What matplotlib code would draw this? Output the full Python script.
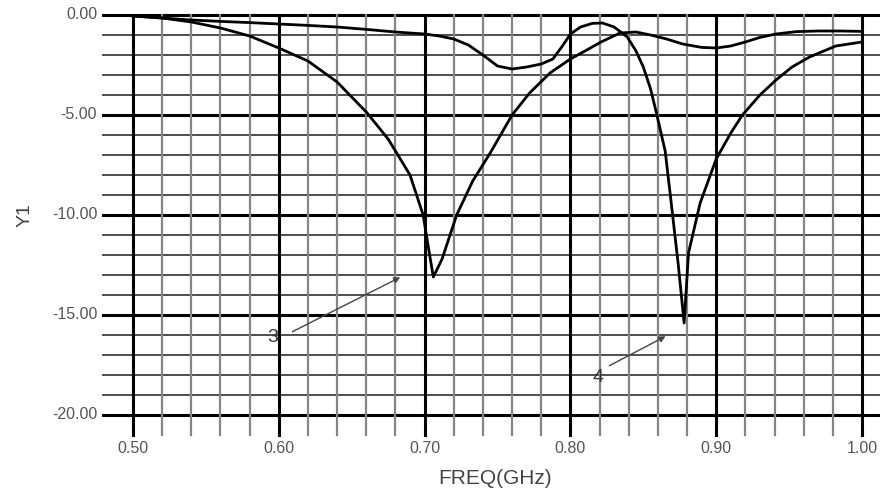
import numpy as np
import matplotlib
matplotlib.use('Agg')
import matplotlib.pyplot as plt

# curve with the deep notch near 0.705 GHz (marker 3)
freq_a = [0.50, 0.52, 0.54, 0.56, 0.58, 0.60, 0.62, 0.64, 0.66, 0.675, 0.69,
          0.699, 0.703, 0.706, 0.712, 0.722, 0.733, 0.745, 0.76, 0.772, 0.786,
          0.80, 0.81, 0.821, 0.834, 0.845, 0.855, 0.866, 0.877, 0.89, 0.90,
          0.91, 0.92, 0.93, 0.941, 0.955, 0.97, 0.985, 1.00]
y1_a = [-0.05, -0.15, -0.35, -0.65, -1.05, -1.65, -2.3, -3.35, -4.85, -6.2, -8.0,
        -10.0, -11.8, -13.1, -12.2, -10.0, -8.3, -6.9, -5.0, -3.9, -2.9,
        -2.2, -1.8, -1.35, -0.9, -0.85, -1.0, -1.2, -1.45, -1.62, -1.65,
        -1.55, -1.35, -1.12, -0.95, -0.83, -0.8, -0.8, -0.82]

# curve with the notch near 0.88 GHz (marker 4)
freq_b = [0.50, 0.52, 0.54, 0.56, 0.58, 0.60, 0.62, 0.64, 0.66, 0.68, 0.70,
          0.71, 0.72, 0.73, 0.74, 0.75, 0.76, 0.77, 0.78, 0.788, 0.795, 0.80,
          0.807, 0.815, 0.822, 0.83, 0.839, 0.845, 0.85, 0.855, 0.859, 0.865,
          0.869, 0.874, 0.878, 0.881, 0.889, 0.90, 0.91, 0.918, 0.93, 0.941,
          0.952, 0.964, 0.982, 1.00]
y1_b = [-0.05, -0.15, -0.25, -0.32, -0.38, -0.45, -0.52, -0.6, -0.72, -0.85, -0.95,
        -1.05, -1.2, -1.5, -2.0, -2.55, -2.7, -2.6, -2.45, -2.2, -1.5, -0.95,
        -0.6, -0.42, -0.4, -0.6, -1.1, -1.8, -2.6, -3.7, -4.9, -6.8,
        -9.3, -12.5, -15.4, -11.9, -9.4, -7.2, -5.9, -5.0, -4.0, -3.25,
        -2.6, -2.1, -1.55, -1.35]

x_ticks = [0.50, 0.60, 0.70, 0.80, 0.90, 1.00]
y_ticks = [0.0, -5.0, -10.0, -15.0, -20.0]

# markers: (label, text position, arrow tail, arrow tip)
markers = [('3', (0.596, -16.15), (0.6076, -15.9), (0.685, -13.05)),
           ('4', (0.819, -18.15), (0.825, -17.6), (0.867, -16.0))]

plt.rcParams['font.family'] = ['Liberation Sans', 'DejaVu Sans']

fig = plt.figure(figsize=(8.8, 4.91), dpi=100)
ax = fig.add_axes([103 / 880, 56 / 491, 777 / 880, 420 / 491])
x_lo, x_hi = 0.5 - 30 / 1459, 1.0 + 18 / 1459
ax.set_xlim(x_lo, x_hi)
ax.set_ylim(-21, 0)
for s in ax.spines.values():
    s.set_visible(False)
ax.set_xticks([])
ax.set_yticks([])

# plotter style grid: minor every 0.02 GHz / 1 unit, major every 0.1 / 5
for v in np.arange(-20, 1, 1):
    major = v % 5 == 0
    ax.plot([x_lo, x_hi], [v, v], color='black' if major else '#404040',
            lw=2.2 if major else 1.3, clip_on=False, zorder=1)
for f in np.arange(0.50, 1.001, 0.02):
    major = abs(f * 10 - round(f * 10)) < 1e-6
    ax.plot([f, f], [-21, 0], color='black' if major else '#858585',
            lw=2.2 if major else 1.6, clip_on=False, zorder=1)

ax.plot(freq_a, y1_a, color='black', lw=2.0, zorder=3, clip_on=False)
ax.plot(freq_b, y1_b, color='black', lw=2.0, zorder=3, clip_on=False)

for lab, txt, tail, tip in markers:
    ax.annotate('', xy=tip, xytext=tail,
                arrowprops=dict(arrowstyle='-|>', color='#444444', lw=1.0,
                                mutation_scale=9), zorder=4)
    ax.text(txt[0], txt[1], lab, fontsize=14, color='#333333',
            ha='center', va='center', zorder=4)

for f in x_ticks:
    ax.text(f, -21.7, '%.2f' % f, fontsize=11.5, color='#555555',
            ha='center', va='center')
for v in y_ticks:
    ax.text(x_lo - 0.004, v, '%.2f' % v, fontsize=11.5, color='#555555',
            ha='right', va='center')

fig.text(25 / 880, 1 - 215 / 491, 'Y1', fontsize=14, color='#444444',
         rotation=90, ha='center', va='center')
fig.text(495 / 880, 1 - 478 / 491, 'FREQ(GHz)', fontsize=15, color='#444444',
         ha='center', va='center')

fig.savefig('out.png', dpi=100)
